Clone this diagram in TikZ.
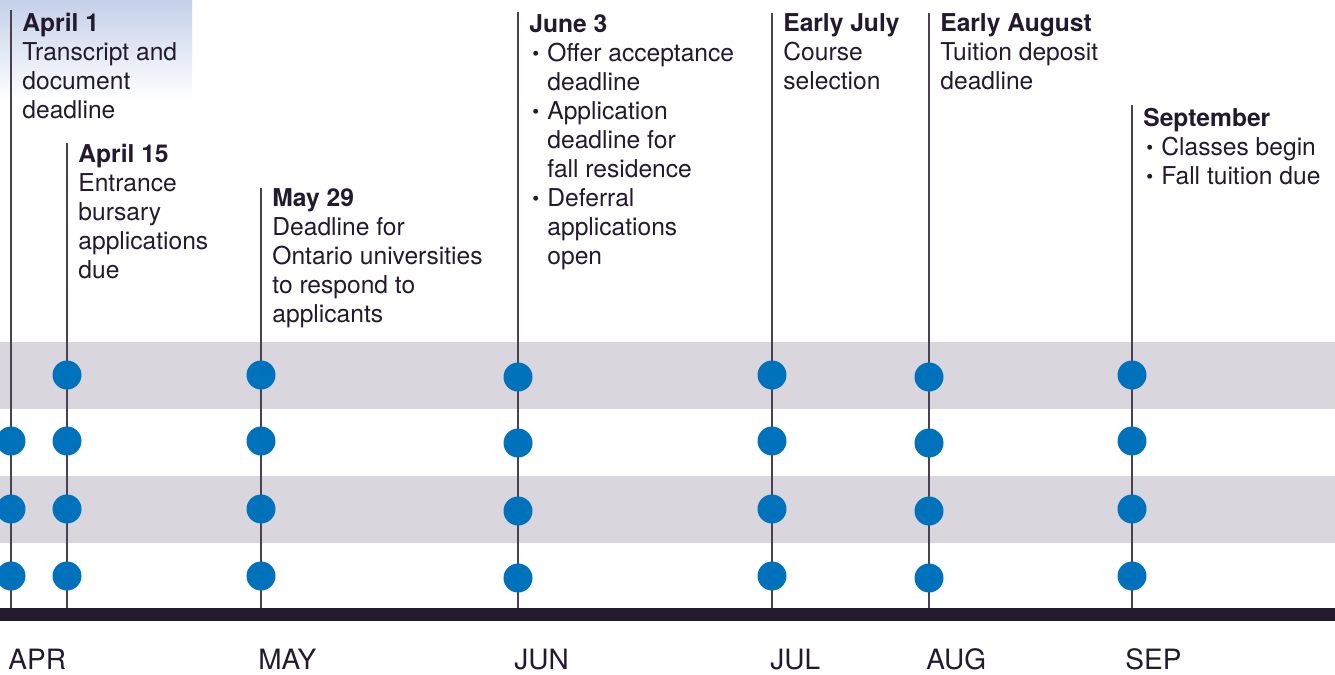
\documentclass[tikz,border=0pt]{standalone}
\usepackage{fontspec}
\setmainfont{TeX Gyre Heros}
\usepackage{xcolor}
\usepackage{tikz}
\usetikzlibrary{positioning}

\definecolor{ink}{HTML}{231A2E}
\definecolor{stem}{HTML}{4A4150}
\definecolor{dotblue}{HTML}{0072BB}
\definecolor{band}{HTML}{D9D6DD}
\definecolor{haze}{HTML}{C4D0E9}

\newcommand{\evbul}{\hspace*{1.5pt}\raisebox{0.1ex}{\scalebox{0.8}{\textbullet}}\hspace{0.33em}}
\newcommand{\evind}{\hphantom{\evbul}}

\tikzset{
  evtext/.style={anchor=north west, inner sep=0pt, align=left, text=ink,
    font=\fontsize{12.3}{14.5}\selectfont},
  month/.style={anchor=base west, inner sep=0pt, text=ink,
    font=\fontsize{14}{16}\selectfont},
  stemline/.style={draw=stem, line width=1pt},
  dot/.style={circle, fill=dotblue, minimum size=14.5pt, inner sep=0pt},
}

\begin{document}
\begin{tikzpicture}[x=0.5pt, y=-0.5pt]
        \useasboundingbox (0,0) rectangle (1335,675);

        % Background
        \shade[top color=haze, bottom color=white] (0,0) rectangle (192,100);
        \fill[band] (0,342) rectangle (1335,409);
        \fill[band] (0,476) rectangle (1335,543);

        % Define stem ends
        \coordinate (t-apr1) at (11,10);
        \coordinate (t-apr15) at (67,143);
        \coordinate (t-may) at (261,188);
        \coordinate (t-jun) at (518,12);
        \coordinate (t-jul) at (772,13);
        \coordinate (t-aug) at (929,13);
        \coordinate (t-sep) at (1132,105);
        \coordinate (a-apr1) at (11,609);
        \coordinate (a-apr15) at (67,609);
        \coordinate (a-may) at (261,609);
        \coordinate (a-jun) at (518,609);
        \coordinate (a-jul) at (772,609);
        \coordinate (a-aug) at (929,609);
        \coordinate (a-sep) at (1132,609);

        % Draw stems
        \draw[stemline] (t-apr1) -- (a-apr1);
        \draw[stemline] (t-apr15) -- (a-apr15);
        \draw[stemline] (t-may) -- (a-may);
        \draw[stemline] (t-jun) -- (a-jun);
        \draw[stemline] (t-jul) -- (a-jul);
        \draw[stemline] (t-aug) -- (a-aug);
        \draw[stemline] (t-sep) -- (a-sep);

        % Define dots
        \node (apr1-b) [dot] at (11,441) {};
        \node (apr1-c) [dot] at (11,509) {};
        \node (apr1-d) [dot] at (11,576) {};
        \node (apr15-a) [dot] at (67,375) {};
        \node (apr15-b) [dot] at (67,441) {};
        \node (apr15-c) [dot] at (67,509) {};
        \node (apr15-d) [dot] at (67,576) {};
        \node (may-a) [dot] at (261,375) {};
        \node (may-b) [dot] at (261,441) {};
        \node (may-c) [dot] at (261,509) {};
        \node (may-d) [dot] at (261,576) {};
        \node (jun-a) [dot] at (518,377) {};
        \node (jun-b) [dot] at (518,443) {};
        \node (jun-c) [dot] at (518,511) {};
        \node (jun-d) [dot] at (518,578) {};
        \node (jul-a) [dot] at (772,375) {};
        \node (jul-b) [dot] at (772,441) {};
        \node (jul-c) [dot] at (772,509) {};
        \node (jul-d) [dot] at (772,576) {};
        \node (aug-a) [dot] at (929,377) {};
        \node (aug-b) [dot] at (929,443) {};
        \node (aug-c) [dot] at (929,511) {};
        \node (aug-d) [dot] at (929,578) {};
        \node (sep-a) [dot] at (1132,375) {};
        \node (sep-b) [dot] at (1132,441) {};
        \node (sep-c) [dot] at (1132,509) {};
        \node (sep-d) [dot] at (1132,576) {};

        % Axis
        \fill[ink] (0,608) rectangle (1335,621);

        % Add event descriptions
        \node (ev-apr1) [evtext] at (22,13) {\textbf{April 1}\\Transcript and\\document\\deadline};
        \node (ev-apr15) [evtext] at (78,144) {\textbf{April 15}\\Entrance\\bursary\\applications\\due};
        \node (ev-may) [evtext] at (272,188) {\textbf{May 29}\\Deadline for\\Ontario universities\\to respond to\\applicants};
        \node (ev-jun) [evtext] at (529,14) {\textbf{June 3}\\\evbul Offer acceptance\\\evind deadline\\\evbul Application\\\evind deadline for\\\evind fall residence\\\evbul Deferral\\\evind applications\\\evind open};
        \node (ev-jul) [evtext] at (783,13) {\textbf{Early July}\\Course\\selection};
        \node (ev-aug) [evtext] at (940,13) {\textbf{Early August}\\Tuition deposit\\deadline};
        \node (ev-sep) [evtext] at (1143,108) {\textbf{September}\\\evbul Classes begin\\\evbul Fall tuition due};

        % Month labels
        \node (m-apr) [month] at (8,669) {APR};
        \node (m-may) [month] at (258,669) {MAY};
        \node (m-jun) [month] at (514,669) {JUN};
        \node (m-jul) [month] at (770,669) {JUL};
        \node (m-aug) [month] at (926,669) {AUG};
        \node (m-sep) [month] at (1125,669) {SEP};
    \end{tikzpicture}
\end{document}
